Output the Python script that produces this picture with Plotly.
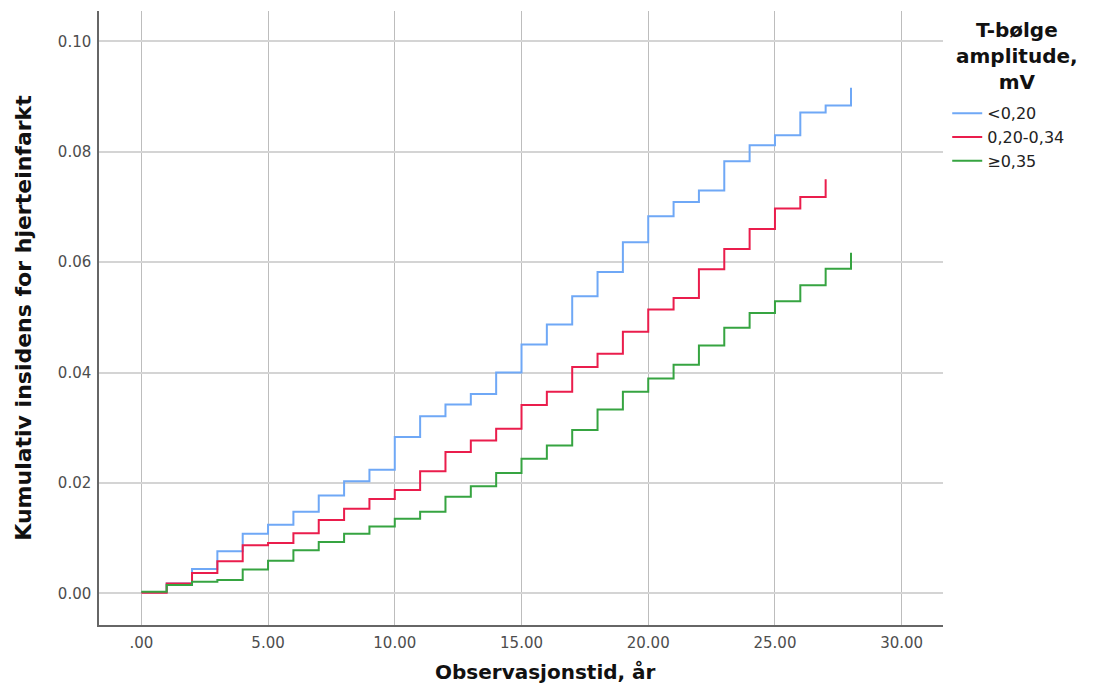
import plotly.graph_objects as go

# ---- data ----
years_lt020 = list(range(0, 29))
cum_lt020 = [0.0002, 0.0018, 0.0044, 0.0076, 0.0108, 0.0124, 0.0148, 0.0177, 0.0203, 0.0224,
             0.0283, 0.0321, 0.0342, 0.0361, 0.0400, 0.0451, 0.0487, 0.0538, 0.0582, 0.0636,
             0.0683, 0.0709, 0.0730, 0.0783, 0.0812, 0.0830, 0.0871, 0.0884, 0.0916]

years_020_034 = list(range(0, 28))
cum_020_034 = [0.0001, 0.0018, 0.0037, 0.0058, 0.0087, 0.0091, 0.0109, 0.0133, 0.0153, 0.0171,
               0.0187, 0.0221, 0.0256, 0.0277, 0.0298, 0.0341, 0.0365, 0.0410, 0.0434, 0.0474,
               0.0514, 0.0535, 0.0587, 0.0624, 0.0660, 0.0697, 0.0718, 0.0750]

years_ge035 = list(range(0, 29))
cum_ge035 = [0.0003, 0.0015, 0.0021, 0.0024, 0.0043, 0.0059, 0.0078, 0.0093, 0.0108, 0.0121,
             0.0135, 0.0148, 0.0175, 0.0194, 0.0218, 0.0244, 0.0268, 0.0296, 0.0333, 0.0365,
             0.0389, 0.0414, 0.0449, 0.0481, 0.0508, 0.0529, 0.0558, 0.0588, 0.0617]

series_names = ["<0,20", "0,20-0,34", "≥0,35"]
series_colors = ["#6fa8f6", "#ea1d4c", "#36a441"]

x_tickvals = [0, 5, 10, 15, 20, 25, 30]
x_ticktext = [".00", "5.00", "10.00", "15.00", "20.00", "25.00", "30.00"]
y_tickvals = [0.0, 0.02, 0.04, 0.06, 0.08, 0.10]
y_ticktext = ["0.00", "0.02", "0.04", "0.06", "0.08", "0.10"]

legend_title = "T-bølge<br>amplitude,<br>mV"
x_title = "Observasjonstid, år"
y_title = "Kumulativ insidens for hjerteinfarkt"

fig = go.Figure()
for xs, ys, name, color in zip(
    [years_lt020, years_020_034, years_ge035],
    [cum_lt020, cum_020_034, cum_ge035],
    series_names, series_colors,
):
    fig.add_trace(go.Scatter(
        x=xs, y=ys, name=name, mode="lines",
        line=dict(color=color, width=2, shape="hv"),
    ))

FONT = "DejaVu Sans"
fig.update_layout(
    width=1093, height=686,
    margin=dict(l=91, r=158, t=3, b=69),
    paper_bgcolor="white", plot_bgcolor="white",
    font=dict(family=FONT, color="#222"),
    legend=dict(
        x=1.005, xanchor="left", y=0.861, yanchor="top",
        font=dict(family=FONT, size=16, color="#222"),
        bgcolor="rgba(0,0,0,0)", tracegroupgap=0,
    ),
    xaxis=dict(
        range=[-1.67, 31.63], tickvals=x_tickvals, ticktext=x_ticktext,
        showgrid=True, gridcolor="#bdbdbd", gridwidth=1.3,
        showline=True, linecolor="#666", linewidth=1.5, zeroline=False,
        ticks="", ticklabelstandoff=3,
        tickfont=dict(family=FONT, size=15, color="#4d4d4d"),
    ),
    yaxis=dict(
        range=[-0.00574, 0.1055], tickvals=y_tickvals, ticktext=y_ticktext,
        showgrid=True, gridcolor="#d4d4d4", gridwidth=2,
        showline=True, linecolor="#666", linewidth=1.5, zeroline=False,
        ticks="", ticklabelstandoff=3,
        tickfont=dict(family=FONT, size=15, color="#4d4d4d"),
        title=dict(text="<b>" + y_title + "</b>", standoff=20,
                   font=dict(family=FONT, size=22, color="#111")),
    ),
    annotations=[
        dict(text="<b>" + x_title + "</b>", xref="paper", yref="paper",
             x=0.5296, y=0, yshift=-47, xanchor="center", yanchor="middle",
             showarrow=False, font=dict(family=FONT, size=20, color="#111")),
        dict(text="<b>" + legend_title + "</b>", xref="paper", yref="paper",
             x=1.0877, y=1, yshift=-5, xanchor="center", yanchor="top", align="center",
             showarrow=False, font=dict(family=FONT, size=20, color="#111")),
    ],
)

fig.write_html("out.html")
